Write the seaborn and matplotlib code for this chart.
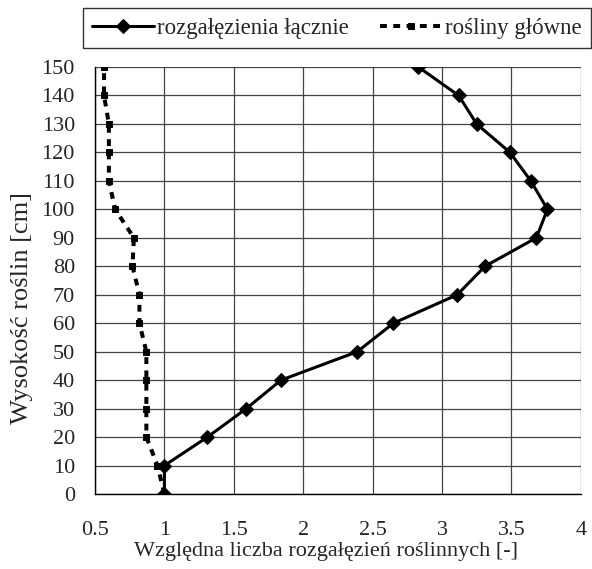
import matplotlib
matplotlib.use("Agg")
import matplotlib.pyplot as plt
import seaborn as sns
import pandas as pd

# data
wysokosc = [0, 10, 20, 30, 40, 50, 60, 70, 80, 90, 100, 110, 120, 130, 140, 150]
rozgalezienia_lacznie = [1.0, 1.0, 1.31, 1.59, 1.84, 2.39, 2.65, 3.11, 3.31, 3.68, 3.76, 3.64, 3.49, 3.25, 3.12, 2.83]
rosliny_glowne = [1.0, 0.95, 0.87, 0.87, 0.87, 0.87, 0.82, 0.82, 0.77, 0.78, 0.645, 0.60, 0.60, 0.60, 0.565, 0.565]

x_ticks = [0.5, 1, 1.5, 2, 2.5, 3, 3.5, 4]
x_tick_labels = ["0.5", "1", "1.5", "2", "2.5", "3", "3.5", "4"]
y_ticks = list(range(0, 151, 10))

df = pd.DataFrame({"y": wysokosc, "laczne": rozgalezienia_lacznie, "glowne": rosliny_glowne})

sns.set_style("white")
plt.rcParams['font.family'] = ['Liberation Serif', 'DejaVu Serif']

fig = plt.figure(figsize=(5.92, 5.69), dpi=100)
ax = fig.add_axes([0.1605, 0.1318, 0.8205, 0.7504])

sns.lineplot(data=df, x="laczne", y="y", sort=False, estimator=None, ax=ax,
             color="black", lw=2.2, marker="D", markersize=7, markeredgecolor="black",
             label="rozgałęzienia łącznie")
sns.lineplot(data=df, x="glowne", y="y", sort=False, estimator=None, ax=ax,
             color="black", lw=2.9, linestyle=(0, (1.7, 1.6)), marker="s", markersize=5,
             markeredgecolor="black", label="rośliny główne")

ax.set_xlim(0.5, 4)
ax.set_ylim(0, 150)
ax.set_xticks(x_ticks)
ax.set_xticklabels(x_tick_labels)
ax.set_yticks(y_ticks)
ax.grid(True, color="#444444", lw=0.9)
ax.set_axisbelow(True)

for s in ["top", "right"]:
    ax.spines[s].set_visible(False)
for s in ["left", "bottom"]:
    ax.spines[s].set_color("black")
    ax.spines[s].set_linewidth(1.0)

ax.tick_params(axis="both", direction="out", length=6.5, width=1, color="black",
               labelsize=16)
ax.tick_params(axis="x", pad=13)
ax.tick_params(axis="y", pad=8)

ax.set_xlabel("Względna liczba rozgałęzień roślinnych [-]", fontsize=16)
ax.xaxis.set_label_coords(0.475, -0.112)
ax.set_ylabel("Wysokość roślin [cm]", fontsize=19)
ax.yaxis.set_label_coords(-0.128, 0.436)

leg = ax.legend(loc="upper left", bbox_to_anchor=(-0.025, 1.138), ncol=2, frameon=True,
                fontsize=16.5, handlelength=2.7, handletextpad=0.1, columnspacing=1.4,
                borderpad=0.42, borderaxespad=0, fancybox=False, edgecolor="black",
                numpoints=1)
leg.get_frame().set_linewidth(1.0)

fig.savefig("out.png", dpi=100, facecolor="white")
